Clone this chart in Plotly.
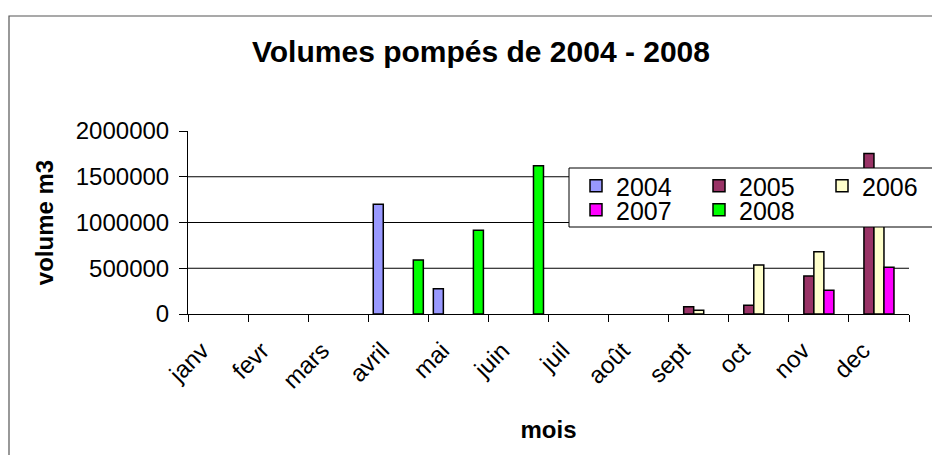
import plotly.graph_objects as go

months = ['janv', 'fevr', 'mars', 'avril', 'mai', 'juin', 'juil', 'août', 'sept', 'oct', 'nov', 'dec']
years = ['2004', '2005', '2006', '2007', '2008']
v2004 = [None, None, None, 1200000, 275000, None, None, None, None, None, None, None]
v2005 = [None, None, None, None, None, None, None, None, 80000, 95000, 415000, 1755000]
v2006 = [None, None, None, None, None, None, None, None, 40000, 535000, 680000, 1300000]
v2007 = [None, None, None, None, None, None, None, None, None, None, 260000, 510000]
v2008 = [None, None, None, 590000, 915000, 1620000, None, None, None, None, None, None]
series = [v2004, v2005, v2006, v2007, v2008]
colors = ['#9999FF', '#993366', '#FFFFCC', '#FF00FF', '#00FF00']
y_ticks = [0, 500000, 1000000, 1500000, 2000000]

FONT = 'Arial, Liberation Sans, sans-serif'
W, H = 940, 455
OFF = 8  # page body margin
# target plot area in window pixels: x 188..909, y 131..314
L = 188 - OFF
T = 131 - OFF
R = W - (909 - OFF)
B = H - (314 - OFF)
PW, PH = W - L - R, H - T - B


def px_x(p):
    return (p - OFF - L) / PW


def px_y(p):
    return (H - B - (p - OFF)) / PH


fig = go.Figure()
for i, (name, vals, col) in enumerate(zip(years, series, colors)):
    fig.add_trace(go.Bar(
        x=months, y=vals, name=name,
        marker=dict(color=col, line=dict(color='black', width=1.5)),
        legend='legend' if i < 3 else 'legend2',
    ))

shapes = []
for v in y_ticks[1:-1]:
    shapes.append(dict(type='line', xref='paper', yref='y', x0=0, x1=1, y0=v, y1=v,
                       line=dict(color='black', width=1), layer='below'))
# legend frame
shapes.append(dict(type='rect', xref='paper', yref='paper',
                   x0=px_x(569), x1=px_x(965), y0=px_y(227), y1=px_y(168),
                   fillcolor='white', line=dict(color='black', width=1), layer='above'))
# chart border
shapes.append(dict(type='rect', xref='paper', yref='paper',
                   x0=px_x(9), x1=px_x(980), y0=px_y(480), y1=px_y(16),
                   fillcolor='rgba(0,0,0,0)', line=dict(color='#555555', width=1.2), layer='above'))

legend_common = dict(orientation='h', xref='paper', yref='paper',
                     xanchor='left', yanchor='middle', bgcolor='rgba(0,0,0,0)',
                     borderwidth=0, font=dict(family=FONT, size=25, color='black'),
                     entrywidth=78, tracegroupgap=0, itemclick=False)

fig.update_layout(
    width=W, height=H,
    margin=dict(l=L, r=R, t=T, b=B, pad=0, autoexpand=False),
    paper_bgcolor='white', plot_bgcolor='white',
    font=dict(family=FONT, color='black', size=24),
    title=dict(text='<b>Volumes pompés de 2004 - 2008</b>', x=(481 - OFF) / W, xref='container',
               xanchor='center', y=1 - (51 - OFF) / H, yref='container', yanchor='middle',
               font=dict(family=FONT, size=30, color='black')),
    barmode='group', bargap=1 / 6, bargroupgap=0,
    showlegend=True,
    legend=dict(x=px_x(576), y=px_y(186), **legend_common),
    legend2=dict(x=px_x(576), y=px_y(210), **legend_common),
    shapes=shapes,
    xaxis=dict(
        type='category', tickangle=-45, tickson='boundaries',
        ticks='outside', ticklen=7, tickcolor='black', tickwidth=1,
        ticklabelshift=-16, ticklabelstandoff=12,
        showline=True, linecolor='black', linewidth=1, showgrid=False,
        tickfont=dict(family=FONT, size=24, color='black'),
        title=dict(text='<b>mois</b>', font=dict(family=FONT, size=24, color='black'), standoff=28),
    ),
    yaxis=dict(
        range=[0, 2000000], tickvals=y_ticks, ticktext=[str(v) for v in y_ticks],
        ticks='outside', ticklen=8, tickcolor='black', tickwidth=1, ticklabelstandoff=5,
        showline=True, linecolor='black', linewidth=1, showgrid=False, zeroline=False,
        tickfont=dict(family=FONT, size=24, color='black'),
        title=dict(text='<b>volume m3</b>', font=dict(family=FONT, size=24, color='black'), standoff=15),
    ),
)

fig.write_html('out.html')
